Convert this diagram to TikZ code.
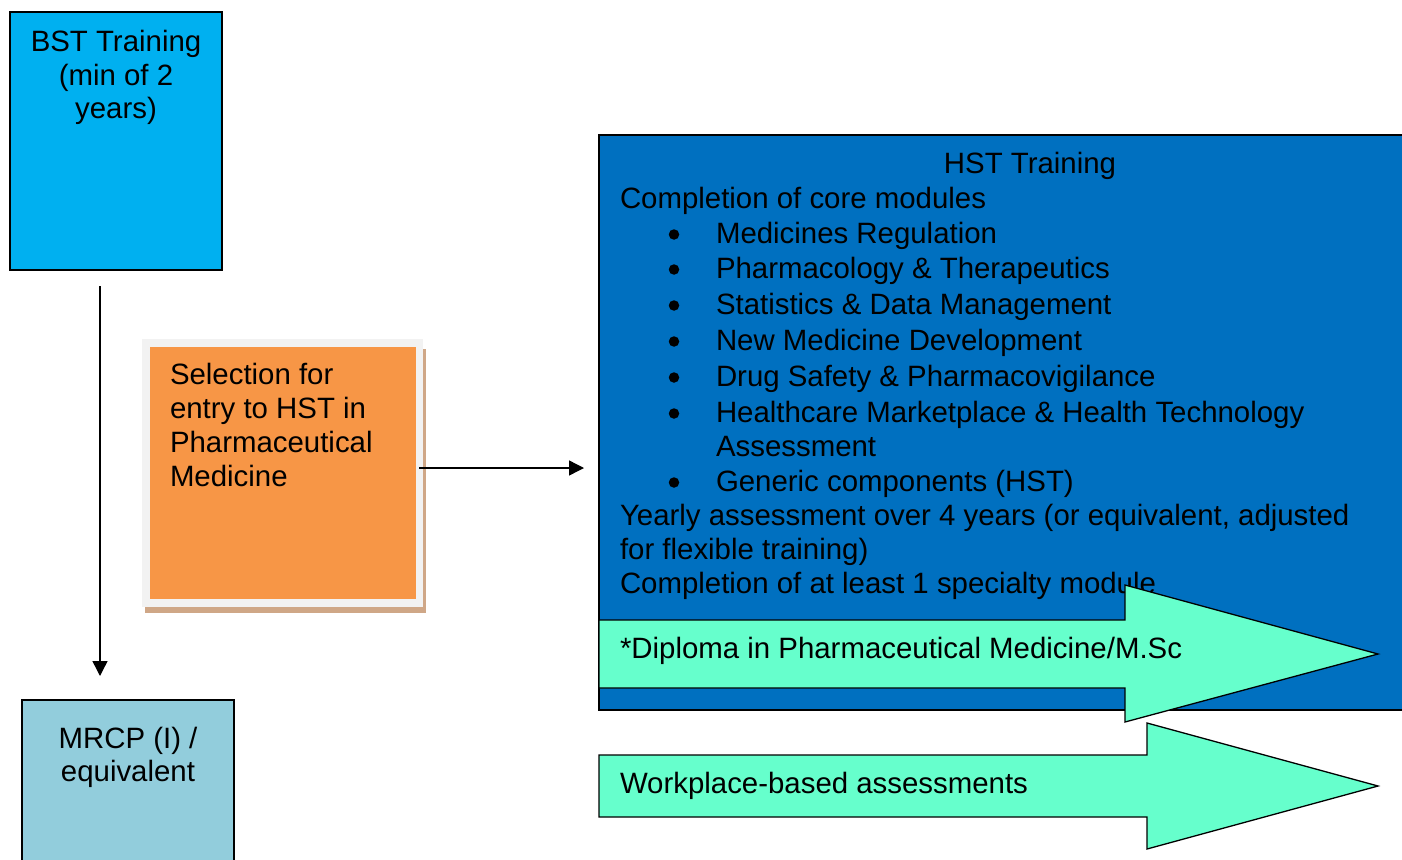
\documentclass[tikz,border=0pt]{standalone}
\usepackage{fontspec}
\setmainfont{Liberation Sans}
\usetikzlibrary{arrows.meta}
\definecolor{bstblue}{HTML}{00B0F0}
\definecolor{mrcpblue}{HTML}{92CDDC}
\definecolor{selorange}{HTML}{F79646}
\definecolor{framegray}{HTML}{F2F2F2}
\definecolor{shadowtan}{HTML}{CFA787}
\definecolor{hstblue}{HTML}{0070C0}
\definecolor{mint}{HTML}{66FFCC}
\begin{document}
\begin{tikzpicture}[x=1pt,y=-1pt,
  box/.style={draw=black,line width=1.5pt,inner sep=0pt,outer sep=0pt,anchor=north west},
  txt/.style={inner sep=0pt,outer sep=0pt,font=\fontsize{29.4}{34}\selectfont,anchor=base west},
  ctxt/.style={txt,anchor=base},
  bul/.style={circle,fill=black,inner sep=0pt,outer sep=0pt,minimum size=10.5pt},
  conn/.style={line width=1.4pt,-{Triangle[length=15pt,width=15pt]}},
  greenarrow/.style={fill=mint,draw=black,line width=1.3pt,line join=miter}]
\useasboundingbox (0,0) rectangle (1402,859);

% BST box
\node[box,fill=bstblue,minimum width=212pt,minimum height=258pt] (bst) at (10,12) {};
\node[ctxt] (bst1) at (116,52) {BST Training};
\node[ctxt] (bst2) at (116,85) {(min of 2};
\node[ctxt] (bst3) at (116,118) {years)};

% MRCP box
\node[box,fill=mrcpblue,minimum width=212pt,minimum height=200pt] (mrcp) at (22,700) {};
\node[ctxt] (mrcp1) at (128,748) {MRCP (I) /};
\node[ctxt] (mrcp2) at (128,781) {equivalent};

% vertical connector
\coordinate (bstout) at (100,286);
\coordinate (mrcpin) at (100,676);
\draw[conn] (bstout) -- (mrcpin);

% Selection box
\fill[shadowtan] (145,349) rectangle (426,613);
\node[draw=framegray,line width=7.5pt,fill=selorange,inner sep=0pt,outer sep=0pt,
      minimum width=273.5pt,minimum height=260pt,anchor=north west] (sel) at (146,343) {};
\node[txt] (sel1) at (170,384) {Selection for};
\node[txt] (sel2) at (170,418) {entry to HST in};
\node[txt] (sel3) at (170,452) {Pharmaceutical};
\node[txt] (sel4) at (170,486) {Medicine};

% HST box
\node[box,fill=hstblue,minimum width=810pt,minimum height=575pt] (hst) at (599,135) {};
\node[ctxt] (h0) at (1030,173) {HST Training};
\node[txt] (h1) at (620,208) {Completion of core modules};
\foreach \y/\t [count=\i] in {243/Medicines Regulation,
                   278/Pharmacology \& Therapeutics,
                   314/Statistics \& Data Management,
                   350/New Medicine Development,
                   386/Drug Safety \& Pharmacovigilance,
                   422/Healthcare Marketplace \& Health Technology,
                   491/Generic components (HST)}{
  \node[bul] (b\i) at (674,\y-8.5) {};
  \node[txt] (m\i) at (716,\y) {\t};
}
\node[txt] (m6b) at (716,456) {Assessment};
\node[txt] (h2) at (620,525) {Yearly assessment over 4 years (or equivalent, adjusted};
\node[txt] (h3) at (620,559) {for flexible training)};
\node[txt] (h4) at (620,593) {Completion of at least 1 specialty module};

% horizontal connector
\coordinate (selout) at (419,468);
\coordinate (hstin) at (584,468);
\draw[conn] (selout) -- (hstin);

% green arrows
\draw[greenarrow] (599,620) -- (1125,620) -- (1125,585) -- (1378,654) -- (1125,722) -- (1125,688) -- (599,688) -- cycle;
\node[txt] (dip) at (620,658) {*Diploma in Pharmaceutical Medicine/M.Sc};
\draw[greenarrow] (599,755) -- (1147,755) -- (1147,723) -- (1378,786) -- (1147,849) -- (1147,817) -- (599,817) -- cycle;
\node[txt] (wba) at (620,793) {Workplace-based assessments};
\end{tikzpicture}
\end{document}
